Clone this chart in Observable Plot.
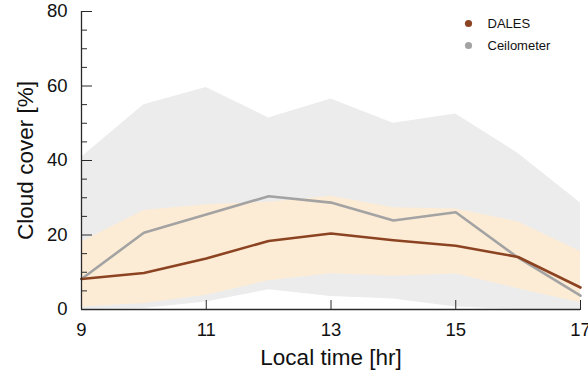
<!DOCTYPE html>
<html>
<head>
<meta charset="utf-8">
<script src="https://cdn.jsdelivr.net/npm/d3@7"></script>
<script src="https://cdn.jsdelivr.net/npm/@observablehq/plot@0.6"></script>
<style>
  html, body { margin: 0; padding: 0; background: #fff; }
</style>
</head>
<body>
<div id="chart"></div>
<script>
// Local time (hours)
const hours = [9, 10, 11, 12, 13, 14, 15, 16, 17];

// DALES cloud cover mean and spread [%]
const dales     = [8.2, 9.8, 13.7, 18.4, 20.4, 18.6, 17.1, 14.1, 5.9];
const dalesLow  = [0.7, 1.6, 3.8, 7.7, 9.6, 8.9, 9.5, 5.6, 1.8];
const dalesHigh = [18.1, 26.6, 28.1, 28.8, 30.4, 27.3, 27.0, 23.5, 15.6];

// Ceilometer cloud cover mean and spread [%]
const ceil     = [8.2, 20.6, 25.5, 30.4, 28.7, 23.9, 26.1, 13.9, 3.7];
const ceilLow  = [0.0, 0.3, 2.0, 5.3, 3.5, 2.8, 0.7, 0.0, 0.0];
const ceilHigh = [40.9, 55.0, 59.6, 51.4, 56.5, 50.0, 52.5, 41.9, 28.6];

// Axis ticks
const xTicks = [9, 11, 13, 15, 17];
const yMajor = [0, 20, 40, 60, 80];
const yMinor = [5, 10, 15, 25, 30, 35, 45, 50, 55, 65, 70, 75];

const seriesNames = ["DALES", "Ceilometer"];
const colDales = "#8c4322";
const colCeil = "#a3a3a3";
const seriesColors = [colDales, colCeil];

const rows = hours.map((h, i) => ({
  h, dales: dales[i], dLo: dalesLow[i], dHi: dalesHigh[i],
  ceil: ceil[i], cLo: ceilLow[i], cHi: ceilHigh[i]
}));

const axisColor = "#2a2a2a";
const font = "'Liberation Sans', Arial, Helvetica, sans-serif";

// legend entries in the top-right corner of the frame
const legendMarks = seriesNames.flatMap((name, i) => [
  Plot.dot([name], {frameAnchor: "top-right", dx: -112, dy: 12 + 22 * i, r: 3.6, fill: seriesColors[i], stroke: null}),
  Plot.text([name], {frameAnchor: "top-right", dx: -93, dy: 12 + 22 * i, textAnchor: "start", lineAnchor: "middle", fontSize: 13, fill: "#111"})
]);

const chart = Plot.plot({
  width: 588,
  height: 378,
  marginLeft: 81,
  marginRight: 8,
  marginTop: 11,
  marginBottom: 69,
  style: {fontFamily: font, fontSize: "18.5px", color: "#111", background: "#fff"},
  x: {domain: [hours[0], hours[hours.length - 1]]},
  y: {domain: [yMajor[0], yMajor[yMajor.length - 1]]},
  marks: [
    // spread bands
    Plot.areaY(rows, {x: "h", y1: "cLo", y2: "cHi", fill: "#ececec"}),
    Plot.areaY(rows, {x: "h", y1: "dLo", y2: "dHi", fill: "#fdecd5"}),
    // mean lines
    Plot.lineY(rows, {x: "h", y: "ceil", stroke: colCeil, strokeWidth: 2.6}),
    Plot.lineY(rows, {x: "h", y: "dales", stroke: colDales, strokeWidth: 2.6}),
    // inward ticks
    Plot.axisY(yMajor, {anchor: "right", frameAnchor: "left", tickSize: 10, stroke: axisColor, fill: "none", label: null}),
    Plot.axisY(yMinor, {anchor: "right", frameAnchor: "left", tickSize: 5, stroke: axisColor, fill: "none", label: null}),
    Plot.axisX(xTicks, {anchor: "top", frameAnchor: "bottom", tickSize: 10, stroke: axisColor, fill: "none", label: null}),
    // tick labels
    Plot.axisY(yMajor, {anchor: "left", tickSize: 0, tickPadding: 14, fontSize: 18.5, fill: "#111", label: null}),
    Plot.axisX(xTicks, {anchor: "bottom", tickSize: 0, tickPadding: 13, fontSize: 18.5, fill: "#111", label: null}),
    // spines
    Plot.ruleX([hours[0]], {stroke: axisColor, strokeWidth: 1.3}),
    Plot.ruleY([yMajor[0]], {stroke: axisColor, strokeWidth: 1.3}),
    // axis titles
    Plot.text(["Local time [hr]"], {frameAnchor: "bottom", dy: 48, lineAnchor: "middle", textAnchor: "middle", fontSize: 22.5, fill: "#111"}),
    Plot.text(["Cloud cover [%]"], {frameAnchor: "left", dx: -56, rotate: -90, textAnchor: "middle", lineAnchor: "middle", fontSize: 22.5, fill: "#111"}),
    ...legendMarks
  ]
});

document.getElementById("chart").append(chart);
</script>
</body>
</html>
